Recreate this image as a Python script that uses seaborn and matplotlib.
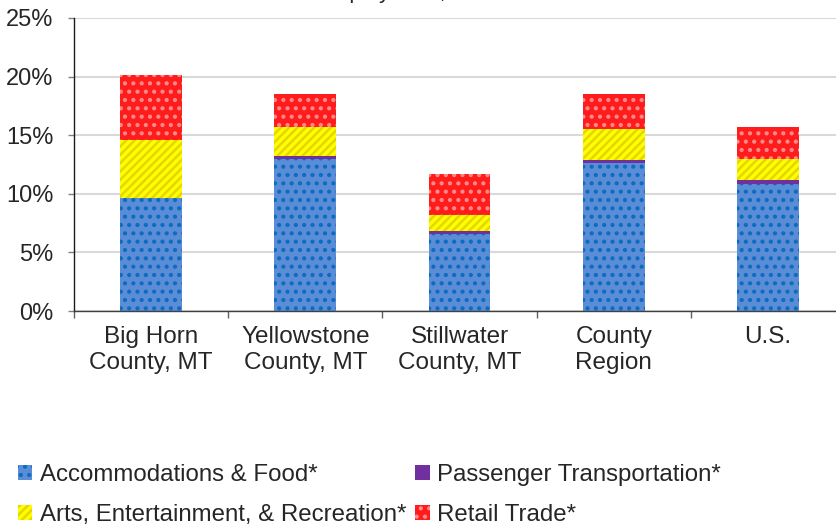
import matplotlib
matplotlib.use("Agg")
import matplotlib.pyplot as plt
import seaborn as sns
import pandas as pd
import numpy as np
from matplotlib.patches import Patch
from matplotlib.ticker import FixedLocator, FuncFormatter

# ---------------- data ----------------
categories = ["Big Horn\nCounty, MT", "Yellowstone\nCounty, MT", "Stillwater\nCounty, MT",
              "County\nRegion", "U.S."]
accommodations_food = [9.6, 13.0, 6.55, 12.65, 10.85]
passenger_transport = [0.0, 0.2, 0.25, 0.25, 0.35]
arts_entertainment = [5.0, 2.5, 1.35, 2.6, 1.75]
retail_trade = [5.5, 2.8, 3.55, 3.0, 2.75]
series_names = ["Accommodations & Food*", "Passenger Transportation*",
                "Arts, Entertainment, & Recreation*", "Retail Trade*"]
y_ticks = [0, 5, 10, 15, 20, 25]
title_text = "Employment, 2016"

# ---------------- style ----------------
sns.set_theme(style="white")
plt.rcParams['font.family'] = ['Liberation Sans', 'DejaVu Sans']
plt.rcParams['hatch.linewidth'] = 1.8

colors = {
    series_names[0]: ("#5B8DD6", "#0A6CC2", ".."),
    series_names[1]: ("#7030A0", "#7030A0", ""),
    series_names[2]: ("#FFFF00", "#E6D600", "////"),
    series_names[3]: ("#FF1C1C", "#FF8A8A", ".."),
}

series_vals = [accommodations_food, passenger_transport, arts_entertainment, retail_trade]
cum = np.cumsum(np.array(series_vals, dtype=float), axis=0)
df = pd.DataFrame({"category": categories})
for name, c in zip(series_names, cum):
    df[name] = c

fig = plt.figure(figsize=(8.36, 5.26), dpi=100)
ax = fig.add_axes([74 / 836, 1 - 311 / 526, 771 / 836, 293 / 526])

# draw from top layer down so lower segments overlay upper cumulative bars
for name in reversed(series_names):
    n0 = len(ax.patches)
    sns.barplot(data=df, x="category", y=name, ax=ax, width=0.4,
                color=colors[name][0], saturation=1, order=categories)
    fc, hc, hatch = colors[name]
    for p in ax.patches[n0:]:
        p.set_facecolor(fc)
        p.set_edgecolor(hc)
        p.set_hatch(hatch)
        p.set_linewidth(0)

ax.set_xlim(-0.5, 4.5)
ax.set_ylim(0, 25)
ax.set_xlabel("")
ax.set_ylabel("")
ax.set_axisbelow(True)
ax.yaxis.set_major_locator(FixedLocator(y_ticks))
ax.yaxis.set_major_formatter(FuncFormatter(lambda v, p: f"{v:.0f}%"))
ax.yaxis.grid(True, color="#D9D9D9", linewidth=1.5)
ax.xaxis.grid(False)

for s in ["top", "right"]:
    ax.spines[s].set_visible(False)
ax.spines["left"].set_color("#1a1a1a")
ax.spines["bottom"].set_color("#404040")
for s in ["left", "bottom"]:
    ax.spines[s].set_linewidth(1.0)

ax.tick_params(axis="y", which="major", length=4.3, width=1, color="#808080",
               labelsize=17, pad=10.5, left=True)
ax.tick_params(axis="x", which="major", length=0, labelsize=17.5, pad=11)
ax.xaxis.set_minor_locator(FixedLocator([-0.5, 0.5, 1.5, 2.5, 3.5]))
ax.tick_params(axis="x", which="minor", length=5, width=1, color="#606060", bottom=True)
for lbl in ax.get_xticklabels():
    lbl.set_linespacing(1.22)

# partially visible title at top edge
fig.text(409 / 836, 1 + 2 / 526, title_text, ha="center", va="baseline", fontsize=16)

handles = []
order = [0, 2, 1, 3]
for i in order:
    name = series_names[i]
    fc, hc, hatch = colors[name]
    handles.append(Patch(facecolor=fc, edgecolor=hc, hatch=hatch, linewidth=0, label=name))
fig.legend(handles=handles, loc="upper left", bbox_to_anchor=(18 / 836, 1 - 464 / 526),
           ncol=2, frameon=False, fontsize=17.3, handlelength=0.6, handleheight=0.6,
           handletextpad=0.3, columnspacing=0.38, labelspacing=0.75, borderpad=0,
           borderaxespad=0)

fig.savefig("out.png", dpi=100)
